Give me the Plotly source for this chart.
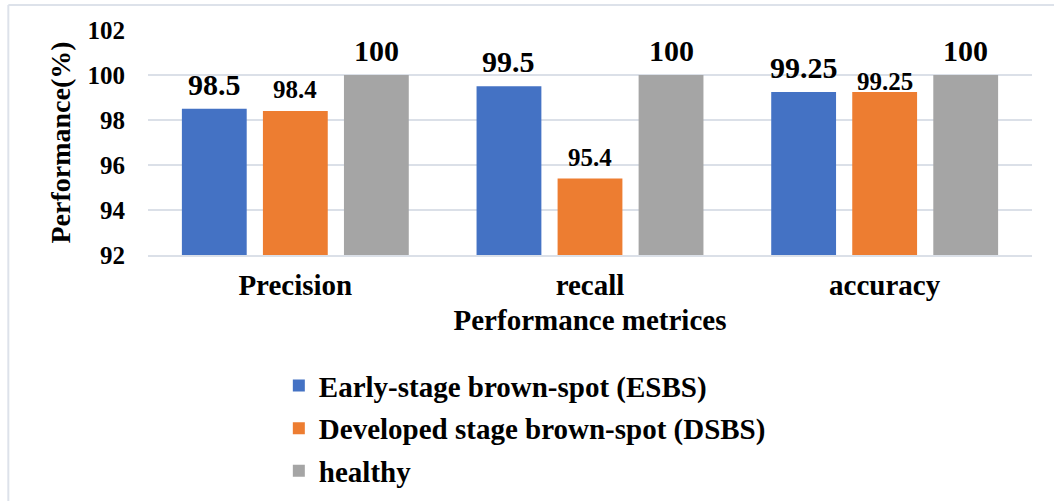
import plotly.graph_objects as go

categories = ["Precision", "recall", "accuracy"]
series_names = ["Early-stage brown-spot (ESBS)", "Developed stage brown-spot (DSBS)", "healthy"]
esbs = [98.5, 99.5, 99.25]
dsbs = [98.4, 95.4, 99.25]
healthy = [100, 100, 100]
y_ticks = [92, 94, 96, 98, 100, 102]

series_values = [esbs, dsbs, healthy]
colors = ["#4472C4", "#ED7D31", "#A5A5A5"]

# label styles (font size, vertical shift) per series/category
label_sizes = [[30, 30, 30], [25, 25, 25], [30, 30, 30]]
label_shifts = [[6, 6, 6], [6, 6, -5], [6, 6, 6]]

FONT = "Liberation Serif"
BARGAP = 0.175
GROUPGAP = 0.2

fig = go.Figure()
for name, vals, col in zip(series_names, series_values, colors):
    fig.add_trace(go.Bar(
        x=categories, y=vals, name=name,
        marker=dict(color=col, line=dict(width=0)),
        legendgroup=name,
    ))

slot = (1 - BARGAP) / len(series_values)
annotations = []
for i, vals in enumerate(series_values):
    off = (i - (len(series_values) - 1) / 2) * slot
    for j, v in enumerate(vals):
        annotations.append(dict(
            x=j + off, y=v, xref="x", yref="y",
            text=f"{v:g}", showarrow=False,
            yanchor="bottom", xanchor="center",
            yshift=label_shifts[i][j],
            font=dict(family=FONT, size=label_sizes[i][j], color="#000", weight="bold"),
        ))

grid_col = "#dbe0e8"
border_col = "#dde2ea"
fig.update_layout(
    width=1054, height=501,
    margin=dict(l=148, r=22, t=30, b=246, autoexpand=False),
    paper_bgcolor="white", plot_bgcolor="white",
    font=dict(family=FONT, color="#000", weight="bold"),
    barmode="group", bargap=BARGAP, bargroupgap=GROUPGAP,
    showlegend=True,
    legend=dict(
        orientation="v",
        x=0.148, xanchor="left", y=-0.467, yanchor="top",
        font=dict(family=FONT, size=29, color="#000", weight="bold"),
        traceorder="grouped", tracegroupgap=2,
        bgcolor="rgba(0,0,0,0)",
    ),
    annotations=annotations,
    shapes=[
        dict(type="line", xref="paper", yref="paper", x0=-0.158, x1=1.03, y0=1.111, y1=1.111,
             line=dict(color=border_col, width=2)),
        dict(type="line", xref="paper", yref="paper", x0=-0.158, x1=-0.158, y0=1.111, y1=-1.1,
             line=dict(color=border_col, width=2)),
    ],
)
fig.update_xaxes(
    type="category",
    showgrid=False, showline=True, linecolor=grid_col, linewidth=2,
    ticks="", ticklabelstandoff=3,
    tickfont=dict(family=FONT, size=29, color="#000", weight="bold"),
    title=dict(text="Performance metrices", standoff=10,
               font=dict(family=FONT, size=29, color="#000", weight="bold")),
    automargin=False,
)
fig.update_yaxes(
    range=[92, 102], tickvals=y_ticks,
    showgrid=True, gridcolor=grid_col, gridwidth=2,
    zeroline=False, showline=False, ticks="", ticklabelstandoff=22,
    tickfont=dict(family=FONT, size=25, color="#000", weight="bold"),
    title=dict(text="Performance(%)", standoff=8,
               font=dict(family=FONT, size=28, color="#000", weight="bold")),
    automargin=False,
)

fig.write_html("out.html", config={"displayModeBar": False},
               post_script="document.body.style.margin='0';")
